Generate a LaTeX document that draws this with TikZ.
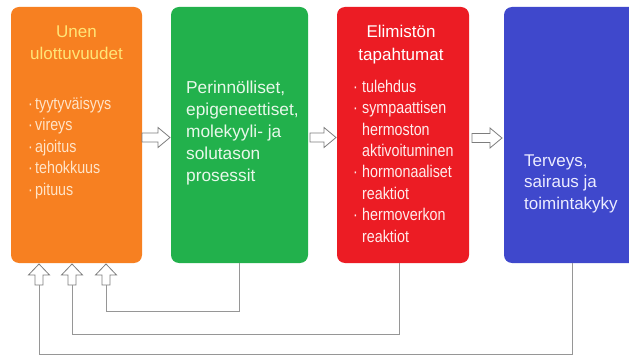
\documentclass[tikz,border=0pt]{standalone}
\usepackage{fontspec}
\setmainfont{Liberation Sans}
\newfontfamily\narrowsans[FakeStretch=0.84]{Liberation Sans}

\definecolor{boxorange}{RGB}{247,128,33}
\definecolor{boxgreen}{RGB}{34,177,76}
\definecolor{boxred}{RGB}{236,28,36}
\definecolor{boxblue}{RGB}{63,72,204}
\definecolor{titleyellow}{RGB}{255,229,120}
\definecolor{peach}{RGB}{255,228,200}
\definecolor{mint}{RGB}{232,248,234}
\definecolor{blush}{RGB}{255,236,236}
\definecolor{lavender}{RGB}{236,236,255}
\definecolor{linkgray}{RGB}{150,150,150}
\definecolor{outlinegray}{RGB}{125,125,125}

% strut fixing the top of a text block 15pt above its first baseline
\newcommand\tstrut{\rule{0pt}{15pt}}
\newcommand\bul{\makebox[7pt][l]{·}}
\newcommand\rbul{\makebox[9pt][l]{·}}
\newcommand\rind{\hspace*{9pt}}

\tikzset{
  panel/.style={rounded corners=8pt, draw=none, inner sep=0pt,
                minimum height=256pt},
  hollow/.style={draw=outlinegray, fill=white, line width=0.8pt,
                 line join=miter},
  link/.style={draw=linkgray, line width=1pt},
  ttl/.style={anchor=north, align=center, inner sep=0pt,
              font=\fontsize{17}{22}\selectfont},
  body/.style={anchor=north west, align=left, inner sep=0pt,
               font=\fontsize{17.3}{22}\selectfont},
  lst/.style={anchor=north west, align=left, inner sep=0pt,
              font=\narrowsans\fontsize{17}{21.5}\selectfont},
  % hollow block arrow pointing right, #1 = length
  pics/rarrow/.style={code={
    \draw[hollow] (0,-4.5) -- (#1-12,-4.5) -- (#1-12,-10) -- (#1,0)
      -- (#1-12,10) -- (#1-12,4.5) -- (0,4.5) -- cycle;
  }},
  % hollow block arrow pointing up, tip at the origin
  pics/uparrow/.style={code={
    \draw[hollow] (0,0) -- (10.5,11) -- (4,11) -- (4,21) -- (-4,21)
      -- (-4,11) -- (-10.5,11) -- cycle;
    \coordinate (-tail) at (0,21);
  }},
}

\begin{document}
\begin{tikzpicture}[x=1pt,y=-1pt]
\clip (0,0) rectangle (629,358);
\fill[white] (0,0) rectangle (629,358);

% the four stages
\node[panel, fill=boxorange, minimum width=131pt] (sleep)   at (76.5,135) {};
\node[panel, fill=boxgreen,  minimum width=137pt] (genes)   at (239.5,135) {};
\node[panel, fill=boxred,    minimum width=132pt] (body)    at (403,135) {};
\node[panel, fill=boxblue,   minimum width=136pt] (health)  at (572,135) {};

% texts
\node[ttl, text=titleyellow] (sleepTitle) at (76.5,22)
  {\tstrut Unen\\ulottuvuudet};
\node[lst, text=peach] (sleepList) at (28,94)
  {\tstrut\bul tyytyväisyys\\\bul vireys\\\bul ajoitus\\\bul tehokkuus\\\bul pituus};

\node[body, text=mint] (genesText) at (186,78)
  {\tstrut Perinnölliset,\\epigeneettiset,\\molekyyli- ja\\solutason\\prosessit};

\node[ttl, text=white, font=\fontsize{17}{23}\selectfont] (bodyTitle) at (401,22)
  {\tstrut Elimistön\\tapahtumat};
\node[lst, text=blush, font=\narrowsans\fontsize{17}{21.4}\selectfont] (bodyList) at (353,77)
  {\tstrut\rbul tulehdus\\\rbul sympaattisen\\\rind hermoston\\\rind aktivoituminen\\
   \rbul hormonaaliset\\\rind reaktiot\\\rbul hermoverkon\\\rind reaktiot};

\node[body, text=lavender, font=\fontsize{17}{21.5}\selectfont] (healthText) at (524,151)
  {\tstrut Terveys,\\sairaus ja\\toimintakyky};

% forward arrows between stages
\pic at (142,137.5) {rarrow=28};
\pic at (310,137.5) {rarrow=26};
\pic at (472,138)   {rarrow=30};

% feedback arrows into the first stage
\pic (upA) at (39,264)  {uparrow};
\pic (upB) at (72,264)  {uparrow};
\pic (upC) at (106,264) {uparrow};

\draw[link] (genes.south)  -- ++(0,48) -| (upC-tail);
\draw[link] ([xshift=-4pt]body.south) -- ++(0,71) -| (upB-tail);
\draw[link] (health.south) -- ++(0,91) -| (upA-tail);
\end{tikzpicture}
\end{document}
